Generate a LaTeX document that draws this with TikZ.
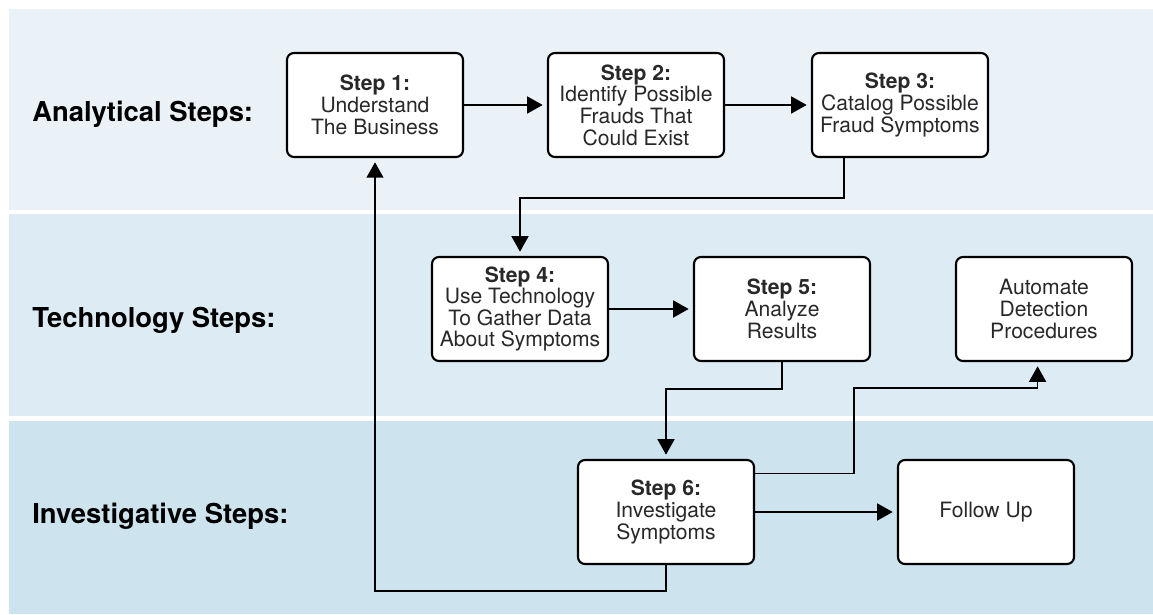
\documentclass[tikz,border=0pt]{standalone}
\usepackage{fontspec}
\setmainfont{TeX Gyre Heros}
\usetikzlibrary{arrows.meta}
\definecolor{bandA}{RGB}{234,242,248}
\definecolor{bandB}{RGB}{221,236,244}
\definecolor{bandC}{RGB}{205,227,238}
\definecolor{boxtext}{RGB}{40,40,40}

\begin{document}
\begin{tikzpicture}[x=0.025cm, y=-0.025cm,
    stepbox/.style={draw=black, line width=1.5pt, rounded corners=5pt, fill=white,
        minimum width=4.4cm, minimum height=2.6cm, inner sep=0pt, align=center,
        text=boxtext, font=\fontsize{15}{15.4}\selectfont},
    flow/.style={line width=1.2pt, -{Triangle[length=11pt,width=12pt]}, shorten >=3pt},
    rowlabel/.style={anchor=base west, inner sep=0pt, font=\fontsize{19.5}{22}\selectfont\bfseries}]
\useasboundingbox (0,0) rectangle (1153,615);

\fill[bandA] (9,9) rectangle (1153,210);
\fill[bandB] (9,214) rectangle (1153,416);
\fill[bandC] (9,421) rectangle (1153,614);

\node[rowlabel] (lana) at (32,122) {Analytical Steps:};
\node[rowlabel] (ltec) at (32,328) {Technology Steps:};
\node[rowlabel] (linv) at (32,524) {Investigative Steps:};

\node[stepbox] (s1) at (375,105) {\textbf{Step 1:}\\Understand\\The Business};
\node[stepbox] (s2) at (636,105) {\textbf{Step 2:}\\Identify Possible\\Frauds That\\Could Exist};
\node[stepbox] (s3) at (900,105) {\textbf{Step 3:}\\Catalog Possible\\Fraud Symptoms};
\node[stepbox] (s4) at (520,309) {\textbf{Step 4:}\\Use Technology\\To Gather Data\\About Symptoms};
\node[stepbox] (s5) at (782,309) {\textbf{Step 5:}\\Analyze\\Results};
\node[stepbox] (auto) at (1044,309) {Automate\\Detection\\Procedures};
\node[stepbox] (s6) at (666,512) {\textbf{Step 6:}\\Investigate\\Symptoms};
\node[stepbox] (fu) at (986,512) {Follow Up};

\coordinate (j3) at (520,198);
\coordinate (j5) at (666,389);
\coordinate (j6) at (854,388);
\coordinate (j7) at (375,591);

\draw[flow] (s1.east) -- (s2.west);
\draw[flow] (s2.east) -- (s3.west);
\draw[flow] ([xshift=-1.4cm]s3.south) |- (j3) -- (s4.north);
\draw[flow] (s4.east) -- (s5.west);
\draw[flow] (s5.south) |- (j5) -- (s6.north);
\draw[flow] ([yshift=0.96cm]s6.east) -| (j6) -| ([xshift=-0.16cm]auto.south);
\draw[flow] (s6.east) -- (fu.west);
\draw[flow] (s6.south) |- (j7) -- (s1.south);
\end{tikzpicture}
\end{document}
